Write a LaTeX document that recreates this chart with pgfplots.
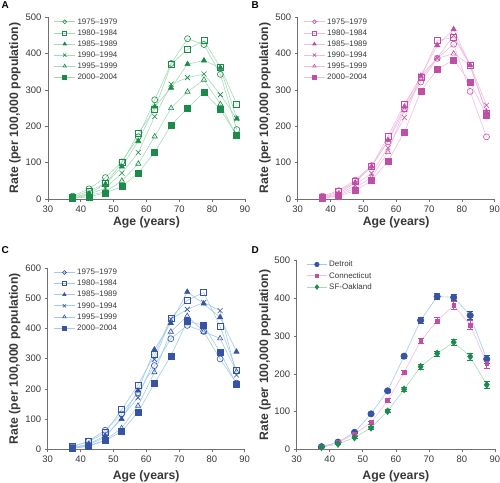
\documentclass[border=0pt]{standalone}
\usepackage{pgfplots}
\pgfplotsset{compat=1.18}
\usepackage{fontspec}
\setmainfont{Liberation Sans}
\definecolor{gD}{HTML}{1B8A4B}
\definecolor{gL}{HTML}{A6DBB9}
\definecolor{pD}{HTML}{BF4FA6}
\definecolor{pL}{HTML}{EFBDE0}
\definecolor{bD}{HTML}{3653A4}
\definecolor{bL}{HTML}{A3CBE9}
\definecolor{axc}{HTML}{707070}
\definecolor{txc}{HTML}{383838}
\pgfplotsset{
 panel/.style={
  scale only axis, width=197bp, height=181.7bp,
  xmin=30, xmax=90, ymin=0,
  axis lines*=left,
  axis line style={axc, line width=0.7pt},
  tick style={axc, line width=0.7pt},
  tick align=outside,
  major tick length=3bp,
  xtick={30,40,...,90},
  ticklabel style={font=\fontsize{9.5}{10}\selectfont, text=txc},
  /pgf/number format/assume math mode=true,
  xlabel={Age (years)}, ylabel={Rate (per 100,000 population)},
  label style={font=\bfseries\fontsize{12.3}{14}\selectfont, text=txc},
  clip=false,
  legend cell align=left,
  legend style={draw=none, fill=none, inner sep=0pt, outer sep=0pt,
    font=\fontsize{8}{9.5}\selectfont, text=txc, anchor=north west,
    row sep=3.6bp,
    nodes={inner sep=0pt, text height=6bp, text depth=1.5bp},
    /tikz/every odd column/.append style={column sep=2bp}},
  legend image code/.code={\draw[mark repeat=2,mark phase=2, every mark/.append style={scale=0.65}] plot coordinates {(0bp,0bp)(10.5bp,0bp)(21bp,0bp)};},
 },
 ser/.style 2 args={color=#2, line width=0.6pt, mark size=3bp, mark options={draw=#1, fill=#1, line width=0.6pt, solid}},
 seropen/.style 2 args={color=#2, line width=0.6pt, mark size=3bp, mark options={draw=#1, fill=white, line width=0.6pt, solid}},
}
\pgfplotstableread{
age a1 a2 a3 a4 a5 a6
37.5 8 5 5 3 3 2
42.5 28 22 15 13 10 6
47.5 59 42 41 30 20 17
52.5 102 100 89 71 50 34
57.5 171 181 159 128 97 72
62.5 273 246 254 227 172 129
67.5 373 371 306 316 250 203
72.5 441 412 371 334 295 250
77.5 425 436 381 344 328 294
82.5 343 362 361 287 261 247
87.5 191 261 221 221 172 175
}\dataA
\pgfplotstableread{
age a1 a2 a3 a4 a5 a6
37.5 8 5 5 3 3 2
42.5 23 20 15 12 10 8
47.5 52 48 45 38 30 23
52.5 92 90 89 71 60 51
57.5 157 172 162 141 129 104
62.5 247 261 254 224 245 184
67.5 322 335 339 339 332 297
72.5 387 436 423 388 387 357
77.5 426 445 467 450 400 383
82.5 296 368 368 371 368 322
87.5 171 236 240 258 236 230
}\dataB
\pgfplotstableread{
age a1 a2 a3 a4 a5 a6
37.5 8 10 5 5 3 3
42.5 27 25 18 15 12 10
47.5 63 55 45 40 30 29
52.5 117 131 100 105 70 58
57.5 187 213 194 171 144 123
62.5 277 313 330 298 255 218
67.5 366 435 418 431 389 309
72.5 410 493 521 463 441 424
77.5 390 519 482 486 389 411
82.5 299 407 437 459 367 321
87.5 219 261 323 246 257 216
}\dataC
\pgfplotstableread{
age det dete con cone sf sfe
37.5 7 2 6 2 5 2
42.5 19 2 18 2 14 2
47.5 45 3 40 3 31 3
52.5 94 4 71 4 57 3
57.5 155 5 129 5 101 4
62.5 247 5 204 5 159 5
67.5 342 7 287 7 219 6
72.5 405 8 341 8 254 7
77.5 403 8 382 10 284 8
82.5 355 10 329 12 246 9
87.5 239 10 228 12 171 9
}\dataD
\begin{document}
\begin{tikzpicture}
\useasboundingbox (0,0) rectangle (500bp,-483bp);
% ---------- A
\begin{axis}[panel, at={(48bp,-17.3bp)}, anchor=north west,
  ymax=500, ytick={0,100,...,500},
  x label style={at={(axis description cs:0.5,-0.127)}, anchor=center},
  y label style={at={(axis description cs:-0.1675,0.5)}, anchor=center},
  legend style={at={(axis description cs:0.03,0.996)}}]
\addplot[seropen={gD}{gL}, mark=o] table[x=age,y=a1]{\dataA};
\addplot[seropen={gD}{gL}, mark=square] table[x=age,y=a2]{\dataA};
\addplot[ser={gD}{gL}, mark=triangle*] table[x=age,y=a3]{\dataA};
\addplot[ser={gD}{gL}, mark=x, mark size=3.5bp] table[x=age,y=a4]{\dataA};
\addplot[seropen={gD}{gL}, mark=triangle] table[x=age,y=a5]{\dataA};
\addplot[ser={gD}{gL}, mark=square*] table[x=age,y=a6]{\dataA};
\legend{1975--1979,1980--1984,1985--1989,1990--1994,1995--1999,2000--2004}
\end{axis}
% ---------- B
\begin{axis}[panel, at={(297.7bp,-17.3bp)}, anchor=north west,
  ymax=500, ytick={0,100,...,500},
  x label style={at={(axis description cs:0.5,-0.127)}, anchor=center},
  y label style={at={(axis description cs:-0.166,0.5)}, anchor=center},
  legend style={at={(axis description cs:0.03,0.996)}}]
\addplot[seropen={pD}{pL}, mark=o] table[x=age,y=a1]{\dataB};
\addplot[seropen={pD}{pL}, mark=square] table[x=age,y=a2]{\dataB};
\addplot[ser={pD}{pL}, mark=triangle*] table[x=age,y=a3]{\dataB};
\addplot[ser={pD}{pL}, mark=x, mark size=3.5bp] table[x=age,y=a4]{\dataB};
\addplot[seropen={pD}{pL}, mark=triangle] table[x=age,y=a5]{\dataB};
\addplot[ser={pD}{pL}, mark=square*] table[x=age,y=a6]{\dataB};
\legend{1975--1979,1980--1984,1985--1989,1990--1994,1995--1999,2000--2004}
\end{axis}
% ---------- C
\begin{axis}[panel, at={(47.7bp,-268bp)}, anchor=north west, height=181.3bp,
  ymax=600, ytick={0,100,...,600},
  x label style={at={(axis description cs:0.5,-0.149)}, anchor=center},
  y label style={at={(axis description cs:-0.1675,0.5)}, anchor=center},
  legend style={at={(axis description cs:0.03,0.996)}}]
\addplot[seropen={bD}{bL}, mark=o] table[x=age,y=a1]{\dataC};
\addplot[seropen={bD}{bL}, mark=square] table[x=age,y=a2]{\dataC};
\addplot[ser={bD}{bL}, mark=triangle*] table[x=age,y=a3]{\dataC};
\addplot[ser={bD}{bL}, mark=x, mark size=3.5bp] table[x=age,y=a4]{\dataC};
\addplot[seropen={bD}{bL}, mark=triangle] table[x=age,y=a5]{\dataC};
\addplot[ser={bD}{bL}, mark=square*] table[x=age,y=a6]{\dataC};
\legend{1975--1979,1980--1984,1985--1989,1990--1994,1995--1999,2000--2004}
\end{axis}
% ---------- D
\begin{axis}[panel, at={(296.7bp,-260.7bp)}, anchor=north west, width=198.3bp, height=188.6bp,
  ymax=500, ytick={0,100,...,500},
  x label style={at={(axis description cs:0.5,-0.143)}, anchor=center},
  y label style={at={(axis description cs:-0.16,0.5)}, anchor=center},
  legend style={at={(axis description cs:0.05,1.0)}, row sep=3.8bp},
  legend image code/.code={\draw[mark repeat=2,mark phase=2, every mark/.append style={scale=0.7}] plot coordinates {(0bp,0bp)(10bp,0bp)(20bp,0bp)};}]
\addplot[ser={bD}{bL}, mark=*, mark size=3.2bp,
  error bars/.cd, y dir=both, y explicit,
  error bar style={bD, line width=0.6pt},
  error mark options={rotate=90, mark size=3bp, bD, line width=0.6pt}]
  table[x=age,y=det,y error=dete]{\dataD};
\addplot[ser={pD}{pL}, mark=square*, mark size=1.8bp,
  error bars/.cd, y dir=both, y explicit,
  error bar style={pD, line width=0.6pt},
  error mark options={rotate=90, mark size=3bp, pD, line width=0.6pt}]
  table[x=age,y=con,y error=cone]{\dataD};
\addplot[ser={gD}{gL}, mark=diamond*, mark size=3.4bp,
  error bars/.cd, y dir=both, y explicit,
  error bar style={gD, line width=0.6pt},
  error mark options={rotate=90, mark size=3bp, gD, line width=0.6pt}]
  table[x=age,y=sf,y error=sfe]{\dataD};
\legend{Detroit,Connecticut,SF-Oakland}
\end{axis}
\node[anchor=north west, inner sep=0pt, font=\bfseries\fontsize{10}{12}\selectfont] at (1.5bp,-1.5bp) {A};
\node[anchor=north west, inner sep=0pt, font=\bfseries\fontsize{10}{12}\selectfont] at (251.5bp,-1.5bp) {B};
\node[anchor=north west, inner sep=0pt, font=\bfseries\fontsize{10}{12}\selectfont] at (1.5bp,-246.5bp) {C};
\node[anchor=north west, inner sep=0pt, font=\bfseries\fontsize{10}{12}\selectfont] at (251.5bp,-246.5bp) {D};
\end{tikzpicture}
\end{document}
